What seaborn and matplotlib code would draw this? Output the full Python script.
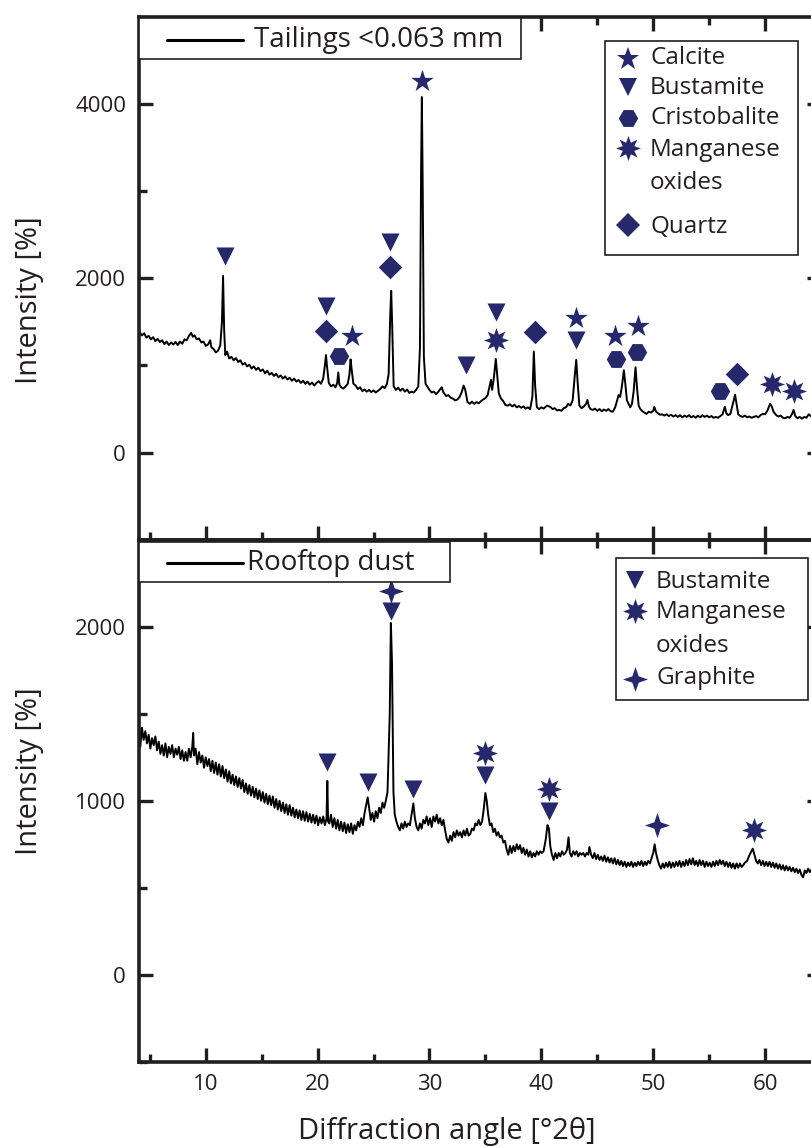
import matplotlib
matplotlib.use("Agg")
import matplotlib.pyplot as plt
from matplotlib.path import Path
from matplotlib.patches import Rectangle
from matplotlib.lines import Line2D
from matplotlib.ticker import MultipleLocator
import pandas as pd
import seaborn as sns

# --- XRD pattern, tailings <0.063 mm (2theta, intensity) ---
tail_angle = [
    4.05, 4.3, 4.5, 4.7, 4.9, 5.1, 5.3, 5.5, 5.7, 5.9, 6.1, 6.3, 6.5, 6.7, 6.9, 7.1, 7.3, 7.5, 7.7, 7.9,
    8.1, 8.3, 8.5, 8.7, 8.85, 9.0, 9.2, 9.4, 9.6, 9.8, 10.0, 10.2, 10.4, 10.5, 10.7, 10.9, 11.1, 11.3,
    11.45, 11.55, 11.65, 11.75, 11.9, 12.1, 12.3, 12.5, 12.7, 12.9, 13.1, 13.3, 13.5, 13.7, 13.9, 14.1,
    14.3, 14.5, 14.7, 14.9, 15.1, 15.3, 15.5, 15.7, 15.9, 16.1, 16.3, 16.5, 16.7, 16.9, 17.1, 17.3, 17.5,
    17.7, 17.9, 18.1, 18.3, 18.5, 18.7, 18.9, 19.1, 19.3, 19.5, 19.7, 19.9, 20.1, 20.3, 20.5, 20.65,
    20.75, 20.85, 21.0, 21.2, 21.4, 21.6, 21.75, 21.85, 21.95, 22.1, 22.3, 22.5, 22.7, 22.85, 22.95,
    23.05, 23.2, 23.4, 23.6, 23.8, 24.0, 24.2, 24.4, 24.6, 24.8, 25.0, 25.2, 25.4, 25.6, 25.8, 26.0,
    26.2, 26.35, 26.5, 26.58, 26.66, 26.8, 27.0, 27.2, 27.4, 27.6, 27.8, 28.0, 28.2, 28.4, 28.6, 28.8,
    29.0, 29.15, 29.25, 29.32, 29.4, 29.5, 29.65, 29.8, 30.0, 30.2, 30.4, 30.6, 30.8, 31.0, 31.1, 31.25,
    31.5, 31.7, 31.9, 32.1, 32.3, 32.5, 32.7, 32.9, 33.05, 33.2, 33.4, 33.6, 33.8, 34.0, 34.2, 34.4,
    34.6, 34.8, 35.0, 35.2, 35.4, 35.5, 35.6, 35.75, 35.93, 36.05, 36.2, 36.4, 36.6, 36.8, 37.0, 37.2,
    37.4, 37.6, 37.8, 38.0, 38.2, 38.4, 38.6, 38.8, 39.0, 39.2, 39.33, 39.45, 39.6, 39.8, 40.0, 40.2,
    40.5, 40.8, 41.0, 41.2, 41.4, 41.6, 41.8, 42.0, 42.2, 42.4, 42.6, 42.8, 43.0, 43.12, 43.25, 43.4,
    43.6, 43.8, 44.0, 44.12, 44.25, 44.4, 44.6, 44.8, 45.0, 45.2, 45.4, 45.6, 45.8, 46.0, 46.2, 46.4,
    46.6, 46.8, 46.9, 47.05, 47.2, 47.38, 47.5, 47.65, 47.8, 47.95, 48.1, 48.25, 48.42, 48.55, 48.7,
    48.85, 49.0, 49.2, 49.4, 49.6, 49.8, 50.0, 50.1, 50.25, 50.45, 50.6, 50.8, 51.0, 51.2, 51.4, 51.6,
    51.8, 52.0, 52.2, 52.4, 52.6, 52.8, 53.0, 53.2, 53.4, 53.6, 53.8, 54.0, 54.2, 54.4, 54.6, 54.8,
    55.0, 55.2, 55.4, 55.6, 55.8, 56.0, 56.2, 56.4, 56.55, 56.7, 56.9, 57.05, 57.2, 57.32, 57.45, 57.6,
    57.8, 58.0, 58.2, 58.4, 58.6, 58.8, 59.0, 59.2, 59.4, 59.6, 59.8, 60.0, 60.2, 60.45, 60.6, 60.75,
    61.0, 61.2, 61.4, 61.6, 61.8, 62.0, 62.2, 62.4, 62.55, 62.7, 62.9, 63.1, 63.3, 63.5, 63.7, 63.9,
    64.1, 64.3, 64.6, 65.0,
]
tail_int = [
    1390, 1345, 1370, 1320, 1340, 1300, 1325, 1280, 1305, 1270, 1290, 1245, 1275, 1235, 1265, 1240, 1270, 1235, 1275, 1250,
    1300, 1290, 1340, 1375, 1330, 1345, 1300, 1310, 1265, 1275, 1225, 1240, 1290, 1210, 1190, 1150, 1170, 1230,
    1500, 2028, 1400, 1120, 1160, 1080, 1100, 1060, 1085, 1040, 1060, 1010, 1030, 990, 1010, 965,
    990, 950, 975, 935, 955, 910, 940, 895, 915, 880, 905, 865, 885, 850, 875, 840, 860,
    825, 850, 815, 835, 800, 825, 790, 815, 780, 805, 770, 800, 820, 790, 850, 1000,
    1120, 980, 800, 760, 780, 750, 800, 920, 780, 750, 735, 760, 790, 900, 1070,
    950, 790, 770, 730, 750, 705, 725, 700, 720, 695, 715, 690, 710, 730, 760, 740,
    790, 900, 1600, 1856, 1500, 760, 720, 745, 710, 735, 700, 725, 685, 700, 690, 720,
    760, 1200, 3200, 4080, 3000, 1100, 790, 760, 720, 690, 700, 670, 700, 735, 750, 690,
    650, 660, 630, 620, 600, 610, 640, 700, 770, 720, 580, 560, 585, 560, 580, 565,
    590, 610, 625, 660, 780, 835, 720, 850, 1075, 900, 680, 620, 590, 545, 540, 555,
    530, 550, 520, 535, 515, 530, 505, 520, 500, 640, 1160, 760, 520, 500, 520, 505,
    540, 525, 500, 510, 485, 490, 480, 510, 520, 560, 540, 600, 900, 1065, 800, 540,
    510, 530, 560, 605, 530, 500, 490, 505, 480, 500, 475, 495, 480, 500, 475, 470,
    520, 610, 660, 640, 760, 945, 800, 600, 560, 520, 560, 700, 980, 750, 540,
    500, 480, 460, 445, 470, 460, 480, 525, 470, 450, 435, 440, 425, 440, 420, 435,
    415, 430, 410, 430, 405, 425, 410, 430, 405, 420, 400, 425, 405, 430, 410, 425,
    405, 420, 400, 410, 400, 420, 440, 525, 450, 430, 445, 520, 600, 665, 560, 440,
    420, 410, 425, 405, 415, 400, 410, 420, 405, 430, 445, 440, 480, 560, 530, 470,
    430, 415, 425, 400, 395, 410, 400, 440, 490, 420, 395, 410, 390, 410, 400, 440,
    420, 400, 410, 400,
]

# --- XRD pattern, rooftop dust ---
dust_angle = [
    4.05, 4.15, 4.3, 4.45, 4.6, 4.75, 4.9, 5.05, 5.2, 5.35, 5.5, 5.65, 5.8, 5.95, 6.1, 6.25, 6.4, 6.55,
    6.7, 6.85, 7.0, 7.15, 7.3, 7.45, 7.6, 7.75, 7.9, 8.05, 8.2, 8.35, 8.5, 8.65, 8.8, 8.88, 8.95, 9.1,
    9.25, 9.4, 9.55, 9.7, 9.85, 10.0, 10.15, 10.3, 10.45, 10.6, 10.75, 10.9, 11.05, 11.2, 11.35, 11.5,
    11.65, 11.8, 11.95, 12.1, 12.25, 12.4, 12.55, 12.7, 12.85, 13.0, 13.15, 13.3, 13.45, 13.6, 13.75,
    13.9, 14.05, 14.2, 14.35, 14.5, 14.65, 14.8, 14.95, 15.1, 15.25, 15.4, 15.55, 15.7, 15.85, 16.0,
    16.15, 16.3, 16.45, 16.6, 16.75, 16.9, 17.05, 17.2, 17.35, 17.5, 17.65, 17.8, 17.95, 18.1, 18.25,
    18.4, 18.55, 18.7, 18.85, 19.0, 19.15, 19.3, 19.45, 19.6, 19.75, 19.9, 20.05, 20.2, 20.35, 20.5,
    20.65, 20.8, 20.87, 20.94, 21.05, 21.2, 21.35, 21.5, 21.65, 21.8, 21.95, 22.1, 22.25, 22.4, 22.55,
    22.7, 22.85, 23.0, 23.15, 23.3, 23.45, 23.6, 23.75, 23.9, 24.05, 24.2, 24.35, 24.48, 24.6, 24.75,
    24.9, 25.05, 25.2, 25.35, 25.5, 25.65, 25.8, 25.95, 26.1, 26.25, 26.45, 26.55, 26.65, 26.78, 26.9,
    27.05, 27.2, 27.35, 27.5, 27.65, 27.8, 27.95, 28.1, 28.25, 28.4, 28.56, 28.7, 28.85, 29.0, 29.15,
    29.3, 29.45, 29.6, 29.75, 29.9, 30.05, 30.2, 30.35, 30.5, 30.65, 30.8, 30.95, 31.1, 31.25, 31.4,
    31.55, 31.7, 31.85, 32.0, 32.15, 32.3, 32.45, 32.6, 32.75, 32.9, 33.05, 33.2, 33.35, 33.5, 33.65,
    33.8, 33.95, 34.1, 34.25, 34.4, 34.55, 34.7, 34.85, 35.0, 35.12, 35.25, 35.4, 35.55, 35.7, 35.85,
    36.0, 36.15, 36.3, 36.45, 36.6, 36.75, 36.9, 37.05, 37.2, 37.35, 37.5, 37.65, 37.8, 37.95, 38.1,
    38.25, 38.4, 38.55, 38.7, 38.85, 39.0, 39.15, 39.3, 39.45, 39.6, 39.75, 39.9, 40.05, 40.2, 40.4,
    40.55, 40.68, 40.8, 40.95, 41.1, 41.25, 41.4, 41.55, 41.7, 41.85, 42.0, 42.15, 42.3, 42.43, 42.55,
    42.7, 42.85, 43.0, 43.15, 43.3, 43.45, 43.6, 43.75, 43.9, 44.05, 44.2, 44.3, 44.45, 44.6, 44.75,
    44.9, 45.05, 45.2, 45.35, 45.5, 45.65, 45.8, 45.95, 46.1, 46.25, 46.4, 46.55, 46.7, 46.85, 47.0,
    47.15, 47.3, 47.45, 47.6, 47.75, 47.9, 48.05, 48.2, 48.35, 48.5, 48.65, 48.8, 48.95, 49.1, 49.25,
    49.4, 49.55, 49.7, 49.85, 50.0, 50.13, 50.25, 50.4, 50.55, 50.7, 50.85, 51.0, 51.15, 51.3, 51.45,
    51.6, 51.75, 51.9, 52.05, 52.2, 52.35, 52.5, 52.65, 52.8, 52.95, 53.1, 53.25, 53.4, 53.55, 53.7,
    53.85, 54.0, 54.15, 54.3, 54.45, 54.6, 54.75, 54.9, 55.05, 55.2, 55.35, 55.5, 55.65, 55.8, 55.95,
    56.1, 56.25, 56.4, 56.55, 56.7, 56.85, 57.0, 57.15, 57.3, 57.45, 57.6, 57.75, 57.9, 58.05, 58.2,
    58.4, 58.55, 58.7, 58.9, 59.05, 59.2, 59.35, 59.5, 59.65, 59.8, 59.95, 60.1, 60.25, 60.4, 60.55,
    60.7, 60.85, 61.0, 61.15, 61.3, 61.45, 61.6, 61.75, 61.9, 62.05, 62.2, 62.35, 62.5, 62.65, 62.8,
    62.95, 63.1, 63.25, 63.4, 63.55, 63.7, 63.85, 64.0, 64.15, 64.3, 64.5, 64.7, 65.0,
]
dust_int = [
    1440, 1310, 1420, 1350, 1400, 1330, 1380, 1300, 1360, 1320, 1370, 1290, 1340, 1270, 1320, 1260, 1330, 1250,
    1310, 1270, 1320, 1250, 1300, 1265, 1310, 1240, 1290, 1230, 1280, 1230, 1300, 1250, 1310, 1390, 1260, 1300,
    1210, 1280, 1220, 1260, 1190, 1250, 1200, 1240, 1170, 1230, 1160, 1220, 1150, 1210, 1140, 1200,
    1130, 1180, 1110, 1170, 1100, 1150, 1090, 1140, 1080, 1130, 1070, 1120, 1050, 1100, 1040,
    1090, 1030, 1080, 1020, 1070, 1010, 1060, 1000, 1050, 990, 1040, 980, 1030, 975, 1025,
    960, 1010, 950, 1000, 940, 990, 930, 980, 920, 975, 915, 960, 905, 950, 900,
    945, 890, 940, 885, 935, 880, 925, 875, 920, 870, 915, 860, 905, 870, 910,
    860, 900, 1115, 880, 870, 920, 850, 900, 840, 890, 830, 880, 825, 875, 815,
    865, 820, 870, 810, 860, 830, 880, 850, 900, 860, 930, 980, 1020, 960, 890,
    930, 880, 940, 900, 960, 930, 990, 960, 1000, 1050, 1500, 2022, 1800, 1050, 920,
    880, 850, 830, 870, 840, 880, 850, 870, 860, 920, 985, 900, 850, 830, 870,
    840, 890, 870, 910, 860, 900, 850, 910, 880, 920, 870, 900, 860, 890, 830,
    780, 760, 800, 770, 820, 790, 830, 800, 820, 790, 830, 800, 840, 800, 810,
    840, 830, 870, 860, 890, 860, 880, 950, 1045, 1000, 920, 860, 870, 820, 840,
    800, 820, 790, 800, 760, 770, 720, 690, 740, 700, 740, 710, 750, 720, 745,
    700, 730, 690, 720, 680, 710, 675, 700, 680, 710, 690, 710, 700, 710, 780,
    860, 840, 740, 690, 660, 700, 670, 700, 680, 710, 690, 700, 720, 790, 700,
    680, 710, 690, 710, 680, 700, 690, 700, 680, 700, 690, 735, 690, 670, 700,
    665, 690, 660, 680, 655, 685, 650, 675, 645, 670, 640, 670, 635, 660, 630,
    655, 625, 650, 620, 645, 625, 650, 620, 645, 625, 650, 630, 655, 625, 650,
    630, 655, 640, 670, 700, 750, 700, 660, 630, 610, 640, 615, 645, 620, 650,
    615, 645, 620, 650, 625, 655, 620, 650, 625, 660, 630, 665, 635, 670, 630,
    655, 625, 660, 630, 655, 620, 650, 625, 645, 620, 650, 625, 655, 630, 660,
    635, 655, 625, 650, 620, 645, 615, 640, 610, 640, 615, 640, 620, 630, 645,
    655, 680, 700, 725, 690, 655, 640, 660, 630, 655, 625, 650, 625, 650, 620,
    645, 615, 640, 610, 635, 605, 630, 600, 625, 600, 620, 595, 615, 590, 610,
    585, 605, 575, 560, 600, 585, 610, 590, 605, 580, 600, 585, 595,
]

# --- phase identification marks, tailings ---
tail_calcite_x = [23.1, 29.3, 43.1, 46.6, 48.6]
tail_calcite_y = [1340, 4270, 1540, 1340, 1455]
tail_bustamite_x = [11.7, 20.75, 26.45, 33.25, 35.95, 43.1]
tail_bustamite_y = [2260, 1680, 2420, 1000, 1610, 1290]
tail_cristobalite_x = [21.95, 46.65, 48.55, 55.95]
tail_cristobalite_y = [1110, 1075, 1160, 710]
tail_mnox_x = [35.95, 60.6, 62.55]
tail_mnox_y = [1290, 790, 710]
tail_quartz_x = [20.75, 26.45, 39.4, 57.45]
tail_quartz_y = [1400, 2125, 1380, 900]

# --- phase identification marks, rooftop dust ---
dust_bustamite_x = [20.85, 24.5, 26.6, 28.55, 35.0, 40.7]
dust_bustamite_y = [1225, 1110, 2090, 1070, 1150, 940]
dust_mnox_x = [35.0, 40.7, 59.0]
dust_mnox_y = [1275, 1065, 830]
dust_graphite_x = [26.6, 50.3]
dust_graphite_y = [2205, 862]

NAVY = "#25286a"
INK = "#231f20"
W, H = 811, 1148

STAR8 = Path.unit_regular_star(8, 0.5)
STAR4 = Path.unit_regular_star(4, 0.36)
MARKERS = {
    "Calcite": ("*", 17),
    "Bustamite": ("v", 13),
    "Cristobalite": ("H", 14),
    "Manganese oxides": (STAR8, 18),
    "Quartz": ("D", 12),
    "Graphite": (STAR4, 18),
}

sns.set_theme(style="white")
plt.rcParams["font.family"] = ["Open Sans", "DejaVu Sans"]
plt.rcParams.update({
    "text.color": INK, "axes.labelcolor": INK,
    "xtick.direction": "in", "ytick.direction": "in",
    "xtick.top": True, "xtick.bottom": True, "ytick.left": True, "ytick.right": True,
    "xtick.major.size": 10, "ytick.major.size": 10,
    "xtick.minor.size": 5.5, "ytick.minor.size": 5.5,
    "xtick.major.width": 2.4, "ytick.major.width": 2.4,
    "xtick.minor.width": 2.4, "ytick.minor.width": 2.4,
    "xtick.color": INK, "ytick.color": INK,
    "xtick.labelsize": 16, "ytick.labelsize": 16,
    "xtick.major.pad": 9, "ytick.major.pad": 9,
})


def fx(px):
    return px / W


def fy(py):
    return 1 - py / H


def mark(ax, name, xs, ys):
    m, ms = MARKERS[name]
    sns.scatterplot(x=xs, y=ys, ax=ax, marker=m, s=ms ** 2, color=NAVY,
                    linewidth=0, legend=False, zorder=4)


def frame(ax, ymin, ymax, ymajor, yminor):
    # transparent axes on top of the data axes that carries the frame and ticks
    ax.set_xlim(4, 65)
    ax.set_ylim(ymin, ymax)
    ax.xaxis.set_major_locator(MultipleLocator(10))
    ax.xaxis.set_minor_locator(MultipleLocator(5))
    ax.yaxis.set_major_locator(MultipleLocator(ymajor))
    ax.yaxis.set_minor_locator(MultipleLocator(yminor))
    for sp in ax.spines.values():
        sp.set_linewidth(2.6)
        sp.set_color(INK)
    ax.set_ylabel("Intensity [%]", fontsize=21)


def line_key(ax, label, x0, x1, y, top, bottom, right, tx):
    ax.add_patch(Rectangle((fx(139), fy(bottom)), fx(right) - fx(139),
                           (bottom - top) / H, transform=fig.transFigure,
                           facecolor="white", edgecolor=INK, lw=1.2, zorder=6,
                           clip_on=False))
    ax.add_line(Line2D([fx(x0), fx(x1)], [fy(y), fy(y)], transform=fig.transFigure,
                       color="black", lw=2.2, zorder=7, clip_on=False))
    ax.text(fx(tx), fy(y), label, transform=fig.transFigure, fontsize=20,
            va="center", ha="left", zorder=7)


def phase_key(ax, entries, box, mx, tx):
    left, top, right, bottom = box
    ax.add_patch(Rectangle((fx(left), fy(bottom)), fx(right) - fx(left),
                           (bottom - top) / H, transform=fig.transFigure,
                           facecolor="white", edgecolor=INK, lw=1.2, zorder=6,
                           clip_on=False))
    for name, label, my, ty in entries:
        m, ms = MARKERS[name]
        ax.add_line(Line2D([fx(mx)], [fy(my)], transform=fig.transFigure, ls="none",
                           marker=m, ms=ms, color=NAVY, mew=0, zorder=7, clip_on=False))
        ax.text(fx(tx), fy(ty), label, transform=fig.transFigure, fontsize=17.5,
                va="center", ha="left", zorder=7)


fig = plt.figure(figsize=(W / 100, H / 100), dpi=100)
rect_top = [fx(138.6), fy(539.8), (821 - 138.6) / W, 522.9 / H]
rect_bot = [fx(138.6), fy(1061.8), (821 - 138.6) / W, 522.0 / H]
ax_top = fig.add_axes(rect_top)
ax_bot = fig.add_axes(rect_bot)

tail = pd.DataFrame({"angle": tail_angle, "intensity": tail_int})
dust = pd.DataFrame({"angle": dust_angle, "intensity": dust_int})

sns.lineplot(data=tail, x="angle", y="intensity", ax=ax_top, color="black",
             lw=1.4, sort=False, estimator=None)
sns.lineplot(data=dust, x="angle", y="intensity", ax=ax_bot, color="black",
             lw=1.4, sort=False, estimator=None)

mark(ax_top, "Calcite", tail_calcite_x, tail_calcite_y)
mark(ax_top, "Bustamite", tail_bustamite_x, tail_bustamite_y)
mark(ax_top, "Cristobalite", tail_cristobalite_x, tail_cristobalite_y)
mark(ax_top, "Manganese oxides", tail_mnox_x, tail_mnox_y)
mark(ax_top, "Quartz", tail_quartz_x, tail_quartz_y)

mark(ax_bot, "Bustamite", dust_bustamite_x, dust_bustamite_y)
mark(ax_bot, "Manganese oxides", dust_mnox_x, dust_mnox_y)
mark(ax_bot, "Graphite", dust_graphite_x, dust_graphite_y)

for ax in (ax_top, ax_bot):
    ax.set_xlabel("")
    ax.set_ylabel("")
    ax.tick_params(which="both", length=0, labelleft=False, labelbottom=False,
                   labeltop=False, labelright=False)
    for sp in ax.spines.values():
        sp.set_visible(False)

fr_top = fig.add_axes(rect_top, sharex=ax_top, sharey=ax_top, facecolor="none")
fr_bot = fig.add_axes(rect_bot, sharex=ax_bot, sharey=ax_bot, facecolor="none")
frame(fr_top, -1000, 5000, 2000, 1000)
frame(fr_bot, -500, 2500, 1000, 500)
fr_top.tick_params(labelbottom=False)
fr_bot.set_xlabel("Diffraction angle [°2θ]", fontsize=21)
fr_top.yaxis.set_label_coords(-0.139, 0.459)
fr_bot.yaxis.set_label_coords(-0.139, 0.557)
fr_bot.xaxis.set_label_coords(0.452, -0.105)

# keys
line_key(fr_top, "Tailings <0.063 mm", 167, 243, 40, 18.3, 59.3, 521, 254)
line_key(fr_bot, "Rooftop dust", 167, 243, 563, 541.7, 581.7, 450, 247)

phase_key(fr_top, [
    ("Calcite", "Calcite", 59, 58),
    ("Bustamite", "Bustamite", 87, 88),
    ("Cristobalite", "Cristobalite", 118, 118),
    ("Manganese oxides", "Manganese", 148, 150),
    ("Quartz", "Quartz", 225, 227),
], (605.3, 40.7, 797.7, 255), 627.5, 650)
fr_top.text(fx(650), fy(183), "oxides", transform=fig.transFigure, fontsize=17.5,
            va="center", ha="left", zorder=7)

phase_key(fr_bot, [
    ("Bustamite", "Bustamite", 580, 582),
    ("Manganese oxides", "Manganese", 611, 612),
    ("Graphite", "Graphite", 679, 678),
], (615.7, 557.7, 808, 700), 635, 656)
fr_bot.text(fx(656), fy(646), "oxides", transform=fig.transFigure, fontsize=17.5,
            va="center", ha="left", zorder=7)

fig.savefig("out.png", dpi=100)
